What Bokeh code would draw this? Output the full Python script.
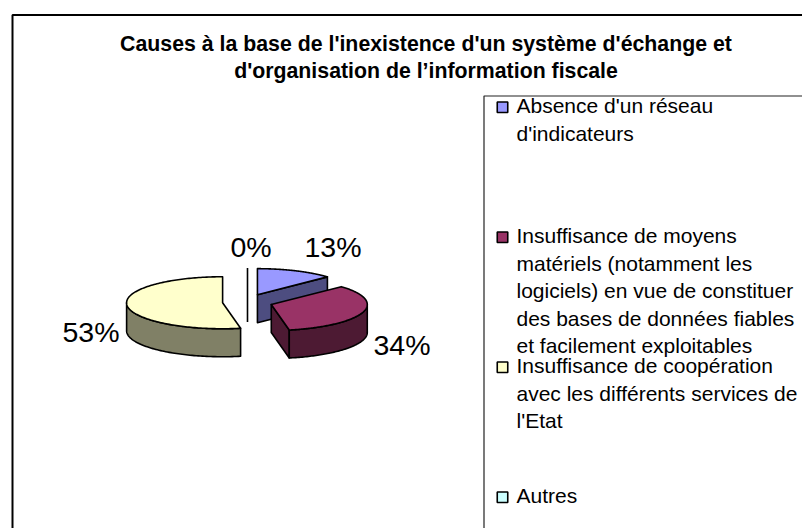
import numpy as np
from bokeh.plotting import figure
from bokeh.models import Range1d
from bokeh.core.properties import value
from bokeh.embed import file_html
from bokeh.resources import INLINE

title_lines = ["Causes à la base de l'inexistence d'un système d'échange et",
               "d'organisation de l’information fiscale"]
legend_lines = [["Absence d'un réseau", "d'indicateurs"],
                ["Insuffisance de moyens", "matériels (notamment les",
                 "logiciels) en vue de constituer", "des bases de données fiables",
                 "et facilement exploitables"],
                ["Insuffisance de coopération", "avec les différents services de", "l'Etat"],
                ["Autres"]]
values = [13, 34, 53, 0]
pct_labels = ["13%", "34%", "53%", "0%"]
colors = ["#9999FF", "#993366", "#FFFFCC", "#CCFFFF"]
dark = ["#4D4D80", "#4D1A33", "#808066", "#668080"]

FONT = "Liberation Sans"
p = figure(width=802, height=528, output_backend="svg", toolbar_location=None,
           x_range=Range1d(0, 802), y_range=Range1d(528, 0), min_border=0)
p.axis.visible = False
p.grid.visible = False
p.outline_line_color = None
p.background_fill_color = "white"

# chart frame (open to the right and bottom, as cropped in the reference)
p.line([12, 12, 802], [528, 14.5, 14.5], line_color="black", line_width=2)
# legend box
p.line([483.5, 483.5, 802], [528, 95.5, 95.5], line_color="#222222", line_width=1.2)

# title
p.text([425.5, 425.5], [43, 70], text=title_lines, text_font=value(FONT), text_font_style="bold",
       text_font_size="21.3px", text_align="center", text_baseline="alphabetic", text_color="black")

# exploded 3D pie
CX, CY, RX, RY, DEPTH, EX, EY = 247, 301.5, 96, 26, 28, 25, 8
fr = np.cumsum([0] + values) / sum(values) * 2 * np.pi


def pt(cx, cy, a):
    return cx + RX * np.sin(a), cy - RY * np.cos(a)


for i in [3, 0, 2, 1]:
    a0, a1 = fr[i], fr[i + 1]
    mid = (a0 + a1) / 2
    cx, cy = CX + EX * np.sin(mid), CY - EY * np.cos(mid)
    style = dict(line_color="black", line_width=1.6, line_join="round")
    if a1 - a0 < 1e-6:
        x0, y0 = pt(cx, cy, a0)
        p.line([x0, x0], [y0, cy + DEPTH], line_color="black", line_width=1.6)
        continue
    # cut face at the slice's closing edge, when it faces the viewer
    if 0 < a1 < np.pi:
        xe, ye = pt(cx, cy, a1)
        p.patch([cx, xe, xe, cx], [cy, ye, ye + DEPTH, cy + DEPTH], fill_color=dark[i], **style)
    # rim: the part of the arc on the viewer's side
    lo, hi = max(a0, np.pi / 2), min(a1, 3 * np.pi / 2)
    if hi > lo:
        t = np.linspace(lo, hi, 80)
        xr, yr = pt(cx, cy, t)
        p.patch(np.r_[xr, xr[::-1]], np.r_[yr, yr[::-1] + DEPTH], fill_color=dark[i], **style)
    # top surface
    t = np.linspace(a0, a1, 160)
    xt, yt = pt(cx, cy, t)
    p.patch(np.r_[cx, xt], np.r_[cy, yt], fill_color=colors[i], **style)

# percent labels
p.text([304, 373, 62, 230], [246, 344, 331, 246], text=pct_labels, text_font=value(FONT),
       text_font_size="28.5px", text_baseline="alphabetic", text_color="black")

# legend
for k, lines in enumerate(legend_lines):
    y0 = 112.7 + 130 * k
    ys = [y0 - 7.3 + 27.5 * j for j in range(len(lines))]
    p.text([516] * len(lines), ys, text=lines, text_font=value(FONT), text_font_size="21px",
           text_baseline="alphabetic", text_color="black")
    p.rect([502], [y0 - 6], width=10.5, height=10.5, fill_color=colors[k],
           line_color="black", line_width=1.6)

open("out.html", "w").write(file_html(p, INLINE))
